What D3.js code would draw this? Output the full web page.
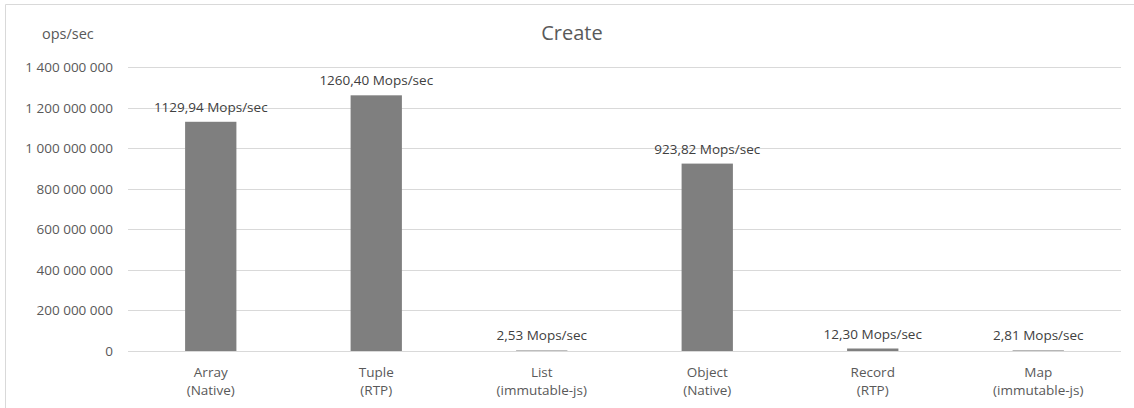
<!DOCTYPE html>
<html>
<head>
<meta charset="utf-8">
<script src="https://cdn.jsdelivr.net/npm/d3@7"></script>
<style>
    body { margin: 0; background: #fff; }
    text { font-family: "Open Sans", sans-serif; fill: #595959; }
</style>
</head>
<body>
<script>
// 数据
const categories = ['Array', 'Tuple', 'List', 'Object', 'Record', 'Map'];
const sub_labels = ['(Native)', '(RTP)', '(immutable-js)', '(Native)', '(RTP)', '(immutable-js)'];
const ops_values = [1129940000, 1260400000, 2530000, 923820000, 12300000, 2810000];
const value_labels = ['1129,94 Mops/sec', '1260,40 Mops/sec', '2,53 Mops/sec', '923,82 Mops/sec', '12,30 Mops/sec', '2,81 Mops/sec'];
const y_ticks = [0, 200000000, 400000000, 600000000, 800000000, 1000000000, 1200000000, 1400000000];

// 画布大小
const width = 1134;
const height = 408;
const margin = {left: 128, right: 13, top: 67, bottom: 57};

const svg = d3.select('body')
    .append('svg')
    .attr('width', width)
    .attr('height', height);

// 外框
svg.append('path')
    .attr('d', `M5.5,${height} V4.5 H${width}`)
    .attr('fill', 'none')
    .attr('stroke', '#d9d9d9')
    .attr('stroke-width', 1);

const x = d3.scaleBand()
    .domain(categories)
    .range([margin.left, width - margin.right])
    .paddingInner(0.69)
    .paddingOuter(0.345);

const y = d3.scaleLinear()
    .domain([0, 1400000000])
    .range([height - margin.bottom, margin.top]);

// 网格线
svg.append('g')
    .selectAll('line')
    .data(y_ticks).enter()
    .append('line')
    .attr('x1', margin.left)
    .attr('x2', width - margin.right)
    .attr('y1', d => Math.round(y(d)) + 0.5)
    .attr('y2', d => Math.round(y(d)) + 0.5)
    .attr('stroke', '#d9d9d9')
    .attr('stroke-width', 1);

// y 轴刻度
const fmt = d => d3.format(',')(d).replace(/,/g, ' ');
svg.append('g')
    .selectAll('text')
    .data(y_ticks).enter()
    .append('text')
    .attr('x', 113)
    .attr('y', d => y(d) + 5)
    .attr('text-anchor', 'end')
    .style('font-size', '13.5px')
    .text(fmt);

// 柱子
svg.append('g')
    .selectAll('rect')
    .data(ops_values).enter()
    .append('rect')
    .attr('x', (d, i) => x(categories[i]))
    .attr('y', d => y(d))
    .attr('width', x.bandwidth())
    .attr('height', d => y(0) - y(d))
    .attr('fill', '#7f7f7f');

// 数值标签
svg.append('g')
    .selectAll('text')
    .data(ops_values).enter()
    .append('text')
    .attr('x', (d, i) => x(categories[i]) + x.bandwidth() / 2)
    .attr('y', d => y(d) - 10)
    .attr('text-anchor', 'middle')
    .style('font-size', '13.5px')
    .style('fill', '#404040')
    .text((d, i) => value_labels[i]);

// x 轴标签
const xl = svg.append('g')
    .selectAll('text')
    .data(categories).enter()
    .append('text')
    .attr('text-anchor', 'middle')
    .style('font-size', '13.5px')
    .attr('x', d => x(d) + x.bandwidth() / 2)
    .attr('y', 377);
xl.append('tspan').text(d => d);
xl.append('tspan')
    .attr('x', d => x(d) + x.bandwidth() / 2)
    .attr('dy', 18)
    .text((d, i) => sub_labels[i]);

// 标题
svg.append('text')
    .attr('x', 572)
    .attr('y', 40)
    .attr('text-anchor', 'middle')
    .style('font-size', '20px')
    .text('Create');

svg.append('text')
    .attr('x', 42)
    .attr('y', 39)
    .style('font-size', '14.5px')
    .text('ops/sec');
</script>
</body>
</html>
